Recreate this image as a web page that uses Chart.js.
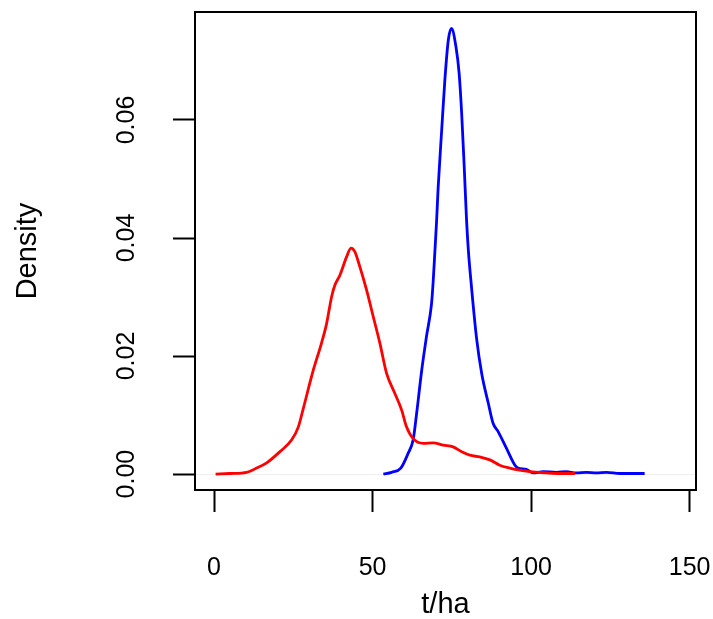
<!DOCTYPE html>
<html>
<head>
<meta charset="utf-8">
<script src="https://cdn.jsdelivr.net/npm/chart.js@4/dist/chart.umd.min.js"></script>
<style>
  html, body { margin: 0; padding: 0; background: #fff; }
  #wrap { width: 713px; height: 619px; }
</style>
</head>
<body>
<div id="wrap"><canvas id="c" width="713" height="619"></canvas></div>
<script>
// ---- data ----
const redX = [0.5, 5, 10.3, 13, 16.6, 20.8, 24.5, 26.6, 28, 31.3, 33.9, 35.5, 37.1, 38.1, 39.7, 41.8, 43.2, 44.4, 46, 48.1, 50.2, 52.3, 54.4, 57, 59.2, 60.7, 62.8, 66, 69.1, 72.3, 75.4, 78.1, 80.7, 83.8, 87, 90.1, 93.3, 95.9, 99.6, 104.8, 109, 113.8];
const redY = [0, 0.0001, 0.0003, 0.0009, 0.0019, 0.0038, 0.0058, 0.008, 0.0108, 0.0176, 0.0222, 0.0255, 0.0301, 0.032, 0.0337, 0.0368, 0.0383, 0.0377, 0.0351, 0.0312, 0.0267, 0.0222, 0.0171, 0.0137, 0.0108, 0.008, 0.006, 0.0052, 0.0053, 0.0049, 0.0046, 0.0038, 0.0032, 0.0029, 0.0024, 0.0015, 0.001, 0.0007, 0.0004, 0.0002, 0.0001, 0.0001];
const blueX = [53.4, 56, 58.9, 61.2, 62.8, 63.9, 65.5, 67, 68.6, 69.1, 69.6, 70.2, 70.7, 71.8, 72.8, 73.9, 74.9, 76.3, 77.3, 78.1, 78.9, 79.6, 80.2, 81.2, 82.8, 84.4, 86.5, 88, 89.6, 92.2, 94.9, 95.9, 98.5, 100.6, 103.8, 108, 111.1, 114.3, 117.4, 120.6, 123.8, 128, 133.2, 135.8];
const blueY = [0, 0.0003, 0.001, 0.0035, 0.0058, 0.0103, 0.0176, 0.0233, 0.0289, 0.0325, 0.0372, 0.043, 0.0487, 0.0583, 0.0668, 0.0736, 0.0755, 0.0724, 0.0679, 0.0611, 0.0521, 0.0435, 0.038, 0.0317, 0.023, 0.0171, 0.012, 0.0086, 0.0072, 0.0044, 0.0015, 0.001, 0.0008, 0.0002, 0.0004, 0.0003, 0.0004, 0.0002, 0.0003, 0.0002, 0.0003, 0.0001, 0.0001, 0.0001];
const xTicks = [0, 50, 100, 150];
const yTicks = [0, 0.02, 0.04, 0.06];
const xTitle = 't/ha';
const yTitle = 'Density';

const toPts = (xs, ys) => xs.map((x, i) => ({ x: x, y: ys[i] }));
const FONT = '"Liberation Sans", Arial, Helvetica, sans-serif';

const boxPlugin = {
  id: 'box',
  afterDatasetsDraw(chart) {
    const a = chart.chartArea, ctx = chart.ctx;
    ctx.save();
    ctx.strokeStyle = '#000';
    ctx.lineWidth = 2;
    ctx.strokeRect(a.left, a.top, a.right - a.left, a.bottom - a.top);
    ctx.restore();
  }
};

new Chart(document.getElementById('c'), {
  type: 'scatter',
  data: {
    datasets: [
      { data: toPts(redX, redY), showLine: true, borderColor: '#ff0000', borderWidth: 2.8,
        pointRadius: 0, cubicInterpolationMode: 'monotone', fill: false },
      { data: toPts(blueX, blueY), showLine: true, borderColor: '#0000ff', borderWidth: 2.8,
        pointRadius: 0, cubicInterpolationMode: 'monotone', fill: false }
    ]
  },
  options: {
    responsive: false,
    animation: false,
    events: [],
    layout: { padding: { left: 0, right: 17, top: 12, bottom: 0 } },
    plugins: { legend: { display: false }, tooltip: { enabled: false } },
    scales: {
      x: {
        type: 'linear', min: -6, max: 152,
        afterFit(s) { s.height = 129; s.paddingLeft = 0; s.paddingRight = 0; },
        afterBuildTicks(s) { s.ticks = xTicks.map(v => ({ value: v })); },
        border: { display: false },
        grid: { drawOnChartArea: false, tickLength: 22, tickWidth: 2, tickColor: '#000', color: '#000' },
        ticks: { color: '#000', font: { family: FONT, size: 25 }, padding: 41, maxRotation: 0,
                 callback: v => String(v) },
        title: { display: true, text: xTitle, color: '#000',
                 font: { family: FONT, size: 29, lineHeight: 1 }, padding: { top: 0, bottom: 0 } }
      },
      y: {
        type: 'linear', min: -0.0027, max: 0.0783,
        afterFit(s) { s.width = 195; s.paddingTop = 0; s.paddingBottom = 0; },
        afterBuildTicks(s) { s.ticks = yTicks.map(v => ({ value: v })); },
        border: { display: false },
        grid: {
          drawOnChartArea: true, tickLength: 22, tickWidth: 2, tickColor: '#000',
          lineWidth: 1,
          color: ctx => (ctx.tick && ctx.tick.value === 0) ? '#eeeeee' : 'rgba(0,0,0,0)'
        },
        ticks: { color: '#000', font: { family: FONT, size: 25 }, padding: 22,
                 minRotation: 90, maxRotation: 90, crossAlign: 'center',
                 callback: v => Number(v).toFixed(2) },
        title: { display: true, text: yTitle, color: '#000',
                 font: { family: FONT, size: 29, lineHeight: 1 }, padding: { top: 13, bottom: 0 } }
      }
    }
  },
  plugins: [boxPlugin]
});
</script>
</body>
</html>
